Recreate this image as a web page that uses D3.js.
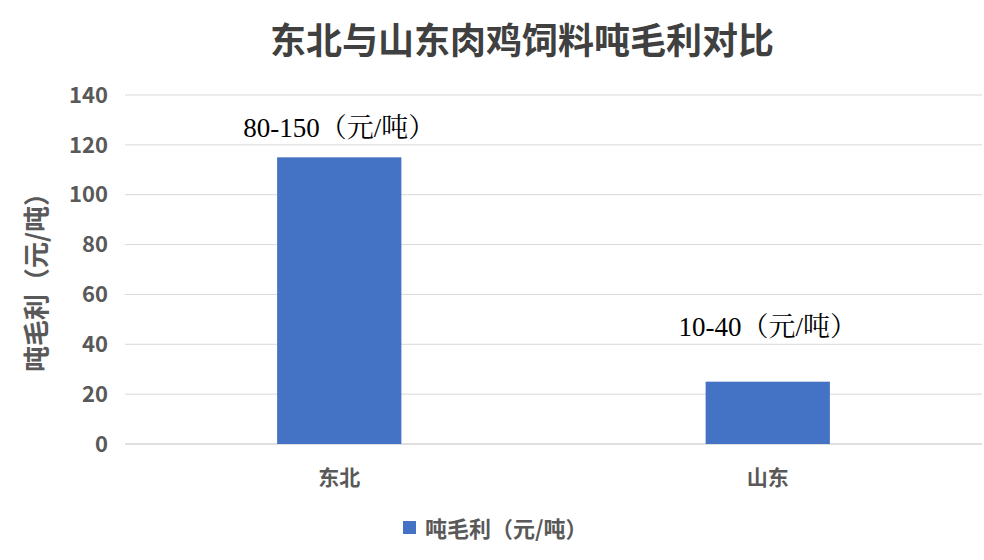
<!DOCTYPE html><html><head><meta charset="utf-8"><script src="https://cdn.jsdelivr.net/npm/d3@7"></script>
<style>body{margin:0;background:#fff}text{font-family:"Noto Sans CJK SC",sans-serif}</style></head><body><svg id="c" width="984" height="560"></svg>
<script>
const categories=["东北","山东"];
const values=[115,25];
const barLabels=["80-150（元/吨）","10-40（元/吨）"];
const yTicks=[0,20,40,60,80,100,120,140];
const svg=d3.select("#c");
const x=d3.scaleBand().domain(categories).range([125,982]).paddingInner(0.71).paddingOuter(0.355);
const y=d3.scaleLinear().domain([0,140]).range([444,95]);
const labelGap=[20,46];
const g=svg.append("g");
g.selectAll("line.g").data(yTicks).join("line").attr("x1",125).attr("x2",982).attr("y1",d=>y(d)).attr("y2",d=>y(d)).attr("stroke",d=>d===0?"#bfbfbf":"#d9d9d9").attr("stroke-width",1);
g.selectAll("text.t").data(yTicks).join("text").attr("x",108).attr("y",d=>y(d)).attr("dy","0.35em").attr("text-anchor","end").attr("font-size",22).attr("font-weight","bold").attr("fill","#595959").text(d=>d);
g.selectAll("rect").data(values).join("rect").attr("x",(d,i)=>x(categories[i])).attr("width",x.bandwidth()).attr("y",d=>y(d)).attr("height",d=>y(0)-y(d)).attr("fill","#4472c4");
g.selectAll("text.bl").data(values).join("text").attr("x",(d,i)=>x(categories[i])+x.bandwidth()/2).attr("y",(d,i)=>y(d)-labelGap[i]).attr("text-anchor","middle").attr("font-size",27).attr("fill","#000").style("font-family","'Liberation Serif','Noto Serif CJK SC','Noto Sans CJK SC',serif").text((d,i)=>barLabels[i]);
g.selectAll("text.c").data(categories).join("text").attr("x",d=>x(d)+x.bandwidth()/2).attr("y",485).attr("text-anchor","middle").attr("font-size",21).attr("font-weight","bold").attr("fill","#595959").text(d=>d);
svg.append("text").attr("x",522).attr("y",54).attr("text-anchor","middle").attr("font-size",36).attr("font-weight","bold").attr("fill","#404040").text("东北与山东肉鸡饲料吨毛利对比");
svg.append("text").attr("transform","translate(46,276) rotate(-90)").attr("text-anchor","middle").attr("font-size",26).attr("font-weight","bold").attr("fill","#595959").text("吨毛利（元/吨）");
svg.append("rect").attr("x",403).attr("y",521).attr("width",13).attr("height",13).attr("fill","#4472c4");
svg.append("text").attr("x",425).attr("y",537).attr("font-size",22).attr("font-weight","bold").attr("fill","#595959").text("吨毛利（元/吨）");
</script></body></html>
